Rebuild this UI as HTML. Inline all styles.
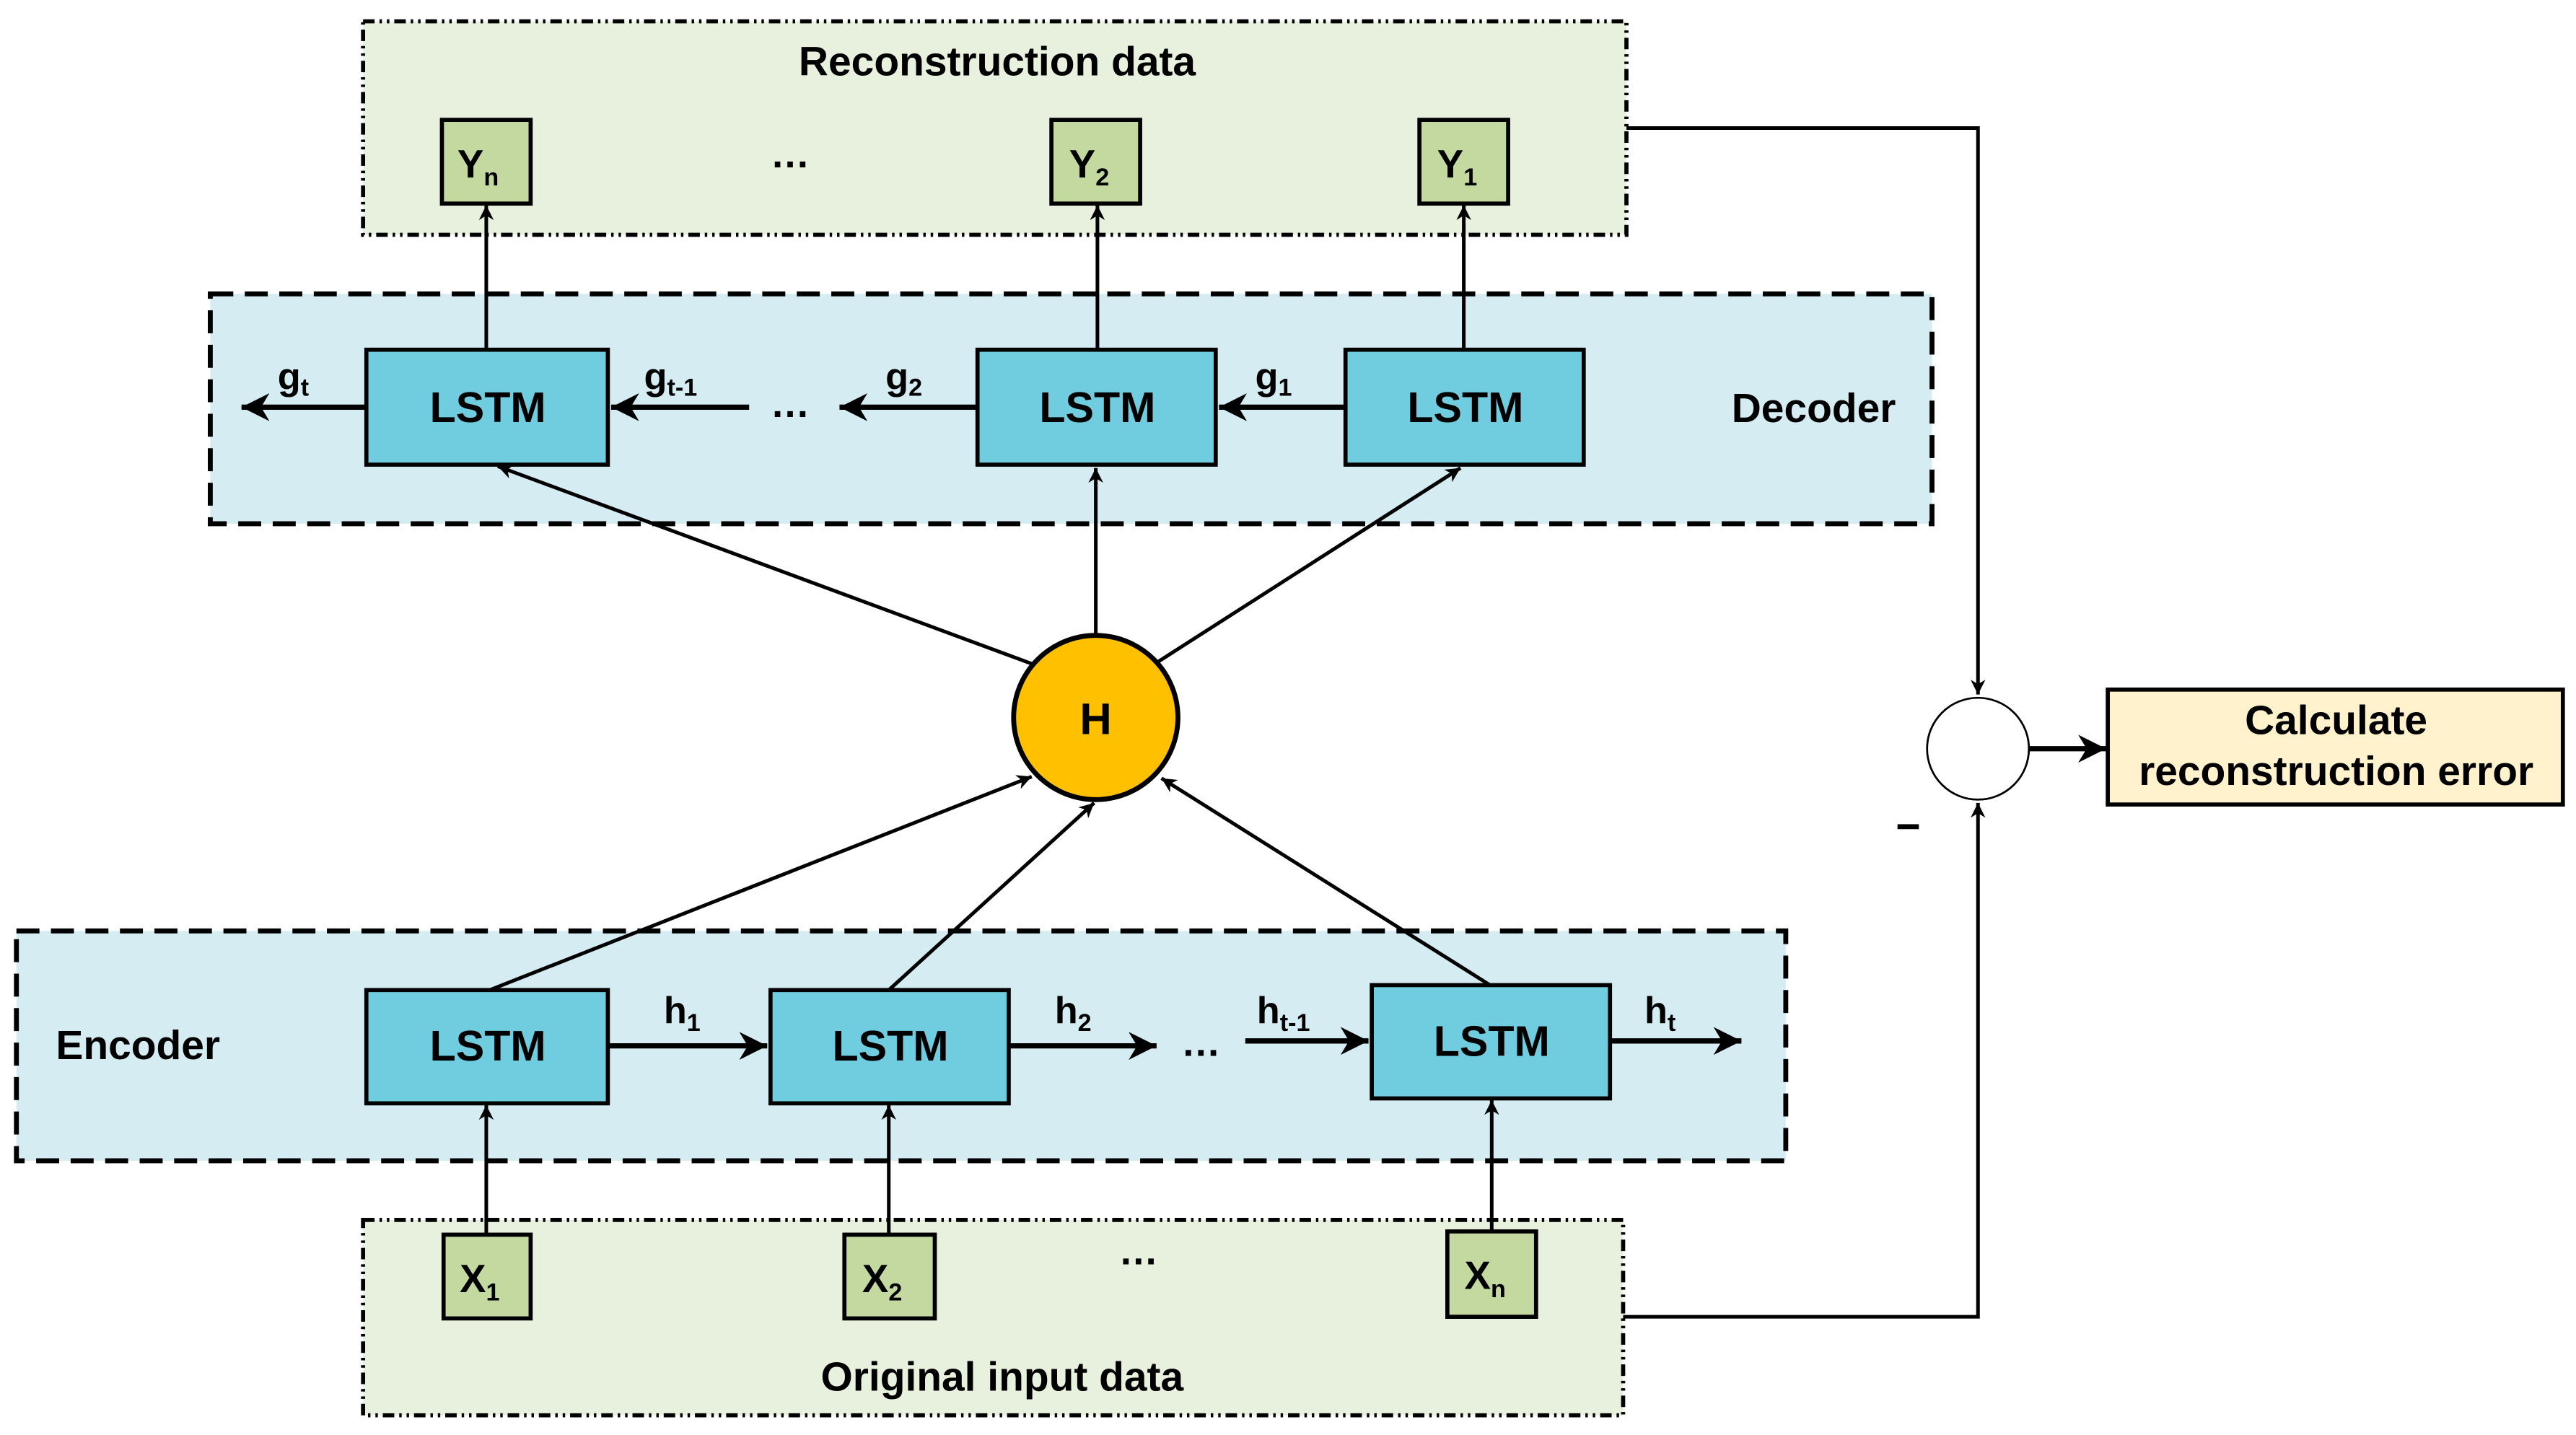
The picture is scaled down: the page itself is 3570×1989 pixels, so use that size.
<!DOCTYPE html>
<html><head><meta charset="utf-8"><style>
html,body{margin:0;padding:0;background:#fff;}
svg{display:block;}
text{font-family:"Liberation Sans",Arial,sans-serif;font-weight:bold;fill:#000;}
</style></head><body>
<svg width="3570" height="1989" viewBox="0 0 1568 874" preserveAspectRatio="none" xmlns="http://www.w3.org/2000/svg">
<defs>
<marker id="a" viewBox="0 0 10 10" refX="10" refY="5" markerWidth="9" markerHeight="9" markerUnits="userSpaceOnUse" orient="auto"><path d="M0,0 L10,5 L0,10 L3,5 z" fill="#000"/></marker>
<marker id="b" viewBox="0 0 10 10" refX="10" refY="5" markerWidth="17" markerHeight="17" markerUnits="userSpaceOnUse" orient="auto"><path d="M0,0 L10,5 L0,10 L3,5 z" fill="#000"/></marker>
</defs>
<rect x="221" y="13" width="769" height="130" fill="#e8f0de" stroke="#000" stroke-width="2.5" stroke-dasharray="7,3,1.5,3,1.5,3"/>
<rect x="128" y="179" width="1048" height="140" fill="#d5edf2" stroke="#000" stroke-width="3" stroke-dasharray="14,7"/>
<rect x="10" y="567" width="1077" height="140" fill="#d5edf2" stroke="#000" stroke-width="3" stroke-dasharray="14,7"/>
<rect x="221" y="743" width="767" height="119" fill="#e8f0de" stroke="#000" stroke-width="2.5" stroke-dasharray="7,3,1.5,3,1.5,3"/>
<text x="607" y="46" font-size="25" text-anchor="middle">Reconstruction data</text>
<text x="610" y="847" font-size="25" text-anchor="middle">Original input data</text>
<text x="1104" y="257" font-size="25" text-anchor="middle">Decoder</text>
<text x="84" y="645" font-size="25" text-anchor="middle">Encoder</text>
<g fill="#c3d9a0" stroke="#000" stroke-width="2.5">
<rect x="269" y="73" width="54" height="51"/><rect x="640" y="73" width="54" height="51"/><rect x="864" y="73" width="54" height="51"/>
<rect x="270" y="752" width="53" height="51"/><rect x="514" y="752" width="55" height="51"/><rect x="881" y="750" width="54" height="52"/>
</g>
<text x="291" y="108" font-size="24" text-anchor="middle">Y<tspan font-size="15" dy="5">n</tspan></text>
<text x="663" y="108" font-size="24" text-anchor="middle">Y<tspan font-size="15" dy="5">2</tspan></text>
<text x="887" y="108" font-size="24" text-anchor="middle">Y<tspan font-size="15" dy="5">1</tspan></text>
<text x="292" y="787" font-size="24" text-anchor="middle">X<tspan font-size="15" dy="5">1</tspan></text>
<text x="537" y="787" font-size="24" text-anchor="middle">X<tspan font-size="15" dy="5">2</tspan></text>
<text x="904" y="785" font-size="24" text-anchor="middle">X<tspan font-size="15" dy="5">n</tspan></text>
<text x="481" y="102" font-size="24" text-anchor="middle">…</text>
<text x="693" y="770" font-size="24" text-anchor="middle">…</text>
<g fill="#70cddf" stroke="#000" stroke-width="2.5">
<rect x="223" y="213" width="147" height="70"/><rect x="595" y="213" width="145" height="70"/><rect x="819" y="213" width="145" height="70"/>
<rect x="223" y="603" width="147" height="69"/><rect x="469" y="603" width="145" height="69"/><rect x="835" y="600" width="145" height="69"/>
</g>
<g font-size="26" text-anchor="middle">
<text x="297" y="257">LSTM</text><text x="668" y="257">LSTM</text><text x="892" y="257">LSTM</text>
<text x="297" y="646">LSTM</text><text x="542" y="646">LSTM</text><text x="908" y="643">LSTM</text>
</g>
<g stroke="#000" stroke-width="2.2" fill="none" marker-end="url(#a)">
<line x1="296" y1="213" x2="296" y2="125"/><line x1="668" y1="213" x2="668" y2="125"/><line x1="891" y1="213" x2="891" y2="125"/>
<line x1="296" y1="752" x2="296" y2="673"/><line x1="541" y1="752" x2="541" y2="673"/><line x1="908" y1="750" x2="908" y2="670"/>
<line x1="630" y1="405" x2="303" y2="284"/><line x1="667" y1="388" x2="667" y2="285"/><line x1="705" y1="403" x2="889" y2="285"/>
<line x1="298" y1="603" x2="628" y2="473"/><line x1="541" y1="603" x2="666" y2="489"/><line x1="907" y1="600" x2="707" y2="474"/>
<polyline points="990,78 1204,78 1204,423"/>
<polyline points="988,802 1204,802 1204,489"/>
</g>
<g stroke="#000" stroke-width="3.2" fill="none" marker-end="url(#b)">
<line x1="222" y1="248" x2="147" y2="248"/><line x1="456" y1="248" x2="372" y2="248"/><line x1="594" y1="248" x2="511" y2="248"/><line x1="818" y1="248" x2="742" y2="248"/>
<line x1="370" y1="637" x2="467" y2="637"/><line x1="615" y1="637" x2="704" y2="637"/><line x1="758" y1="634" x2="833" y2="634"/><line x1="981" y1="634" x2="1060" y2="634"/>
<line x1="1235" y1="456" x2="1282" y2="456"/>
</g>
<text x="481" y="254" font-size="24" text-anchor="middle">…</text>
<text x="731" y="643" font-size="24" text-anchor="middle">…</text>
<g font-size="23">
<text x="169" y="237">g<tspan font-size="15" dy="4">t</tspan></text>
<text x="392" y="237">g<tspan font-size="15" dy="4">t-1</tspan></text>
<text x="539" y="237">g<tspan font-size="15" dy="4">2</tspan></text>
<text x="764" y="237">g<tspan font-size="15" dy="4">1</tspan></text>
<text x="404" y="623">h<tspan font-size="15" dy="5">1</tspan></text>
<text x="642" y="623">h<tspan font-size="15" dy="5">2</tspan></text>
<text x="765" y="623">h<tspan font-size="15" dy="5">t-1</tspan></text>
<text x="1001" y="623">h<tspan font-size="15" dy="5">t</tspan></text>
</g>
<circle cx="667" cy="437" r="50" fill="#ffc000" stroke="#000" stroke-width="3"/>
<text x="667" y="447" font-size="27" text-anchor="middle">H</text>
<circle cx="1204" cy="456" r="31" fill="#fff" stroke="#000" stroke-width="1.2"/>
<rect x="1155" y="502" width="13" height="3" fill="#000"/>
<rect x="1283" y="420" width="277" height="70" fill="#fff2cc" stroke="#000" stroke-width="2.5"/>
<text x="1422" y="447" font-size="25" text-anchor="middle">Calculate</text>
<text x="1422" y="478" font-size="25" text-anchor="middle">reconstruction error</text>
</svg>
</body></html>
